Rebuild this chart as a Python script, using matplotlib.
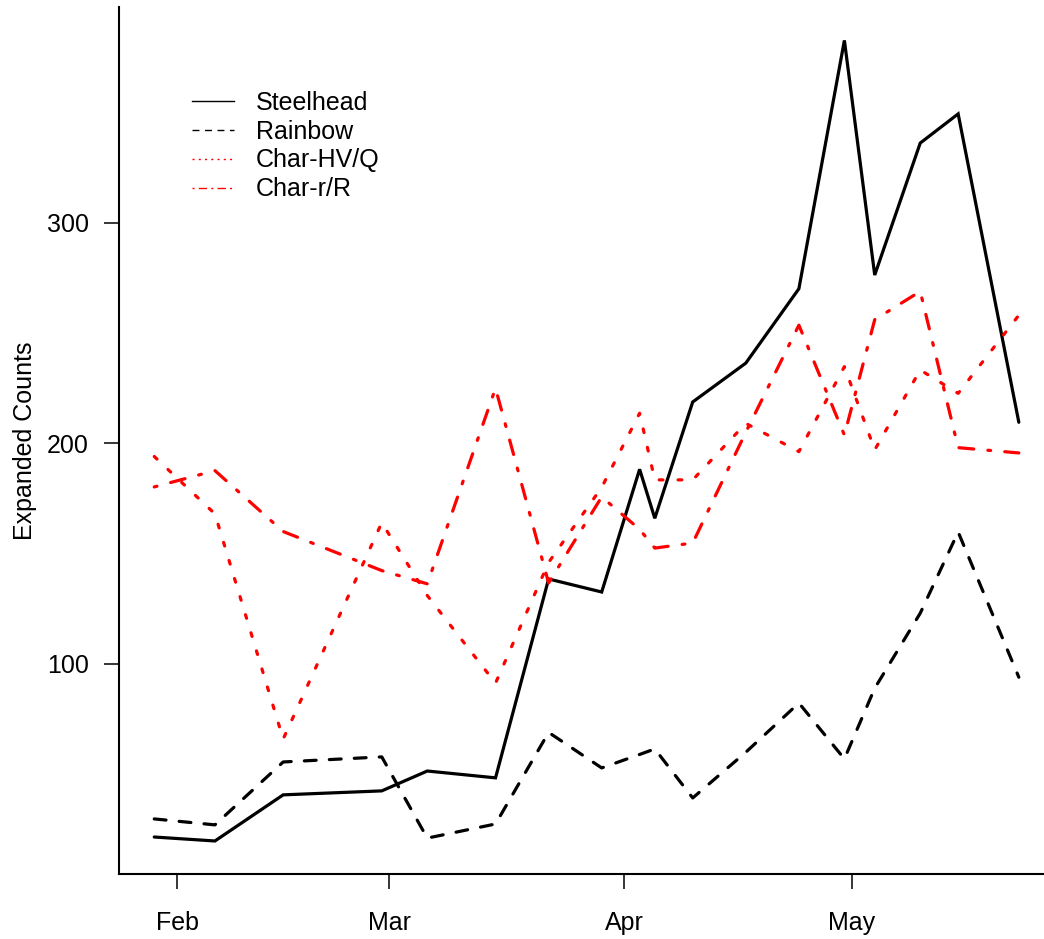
import numpy as np
import matplotlib
matplotlib.use("Agg")
import matplotlib.pyplot as plt
import matplotlib.dates as mdates
from matplotlib.lines import Line2D

# sampling dates and expanded counts per group
dates = np.array(['2010-01-29', '2010-02-06', '2010-02-15', '2010-02-28', '2010-03-06',
                  '2010-03-15', '2010-03-22', '2010-03-29', '2010-04-03', '2010-04-05',
                  '2010-04-10', '2010-04-17', '2010-04-24', '2010-04-30', '2010-05-04',
                  '2010-05-10', '2010-05-15', '2010-05-23'], dtype='datetime64[D]')
steelhead = [21.6, 19.8, 40.7, 42.5, 51.5, 48.4, 138.5, 132.6, 188.2, 166.0,
             218.7, 236.3, 270.0, 382.5, 276.2, 336.0, 349.2, 209.5]
rainbow = [29.8, 27.1, 55.6, 57.9, 21.1, 27.5, 69.0, 52.9, 59.0, 61.5,
           39.3, 60.0, 82.3, 57.0, 89.0, 123.0, 159.8, 94.0]
char_hvq = [194.0, 168.0, 66.0, 164.0, 131.0, 91.3, 146.0, 180.0, 213.6, 183.4,
            183.4, 209.0, 196.2, 234.7, 197.0, 233.2, 222.6, 258.0]
char_rr = [180.2, 187.6, 160.0, 142.3, 136.3, 224.9, 136.7, 175.7, 161.0, 152.5,
           154.8, 205.0, 253.5, 203.7, 256.0, 268.8, 198.0, 195.6]

labels = ['Steelhead', 'Rainbow', 'Char-HV/Q', 'Char-r/R']
month_ticks = np.array(['2010-02-01', '2010-03-01', '2010-04-01', '2010-05-01'], dtype='datetime64[D]')
month_labels = ['Feb', 'Mar', 'Apr', 'May']
y_ticks = [100, 200, 300]

plt.rcParams['font.family'] = ['Liberation Sans', 'DejaVu Sans']
plt.rcParams['lines.scale_dashes'] = False

fig = plt.figure(figsize=(10.44, 9.39), dpi=100)
# axes placed in pixels to match the R layout
ax = fig.add_axes([118.7 / 1044, (939 - 873.5) / 939, 1 - 118.7 / 1044, (873.5 - 7.3) / 939])

lw = 2.3
ax.plot(dates, steelhead, color='black', lw=lw, solid_capstyle='round', solid_joinstyle='miter')
ax.plot(dates, rainbow, color='black', lw=lw, dashes=(8.5, 9.5), dash_capstyle='round')
ax.plot(dates, char_hvq, color='red', lw=lw, dashes=(2.7, 10.9), dash_capstyle='round')
ax.plot(dates, char_rr, color='red', lw=lw, dashes=(2.0, 10.2, 10.7, 10.2), dash_capstyle='round')

# axis limits in data units (R style 4% padding)
feb1 = mdates.date2num(np.datetime64('2010-02-01'))
px_day = 7.584
ax.set_xlim(feb1 - (177 - 118.7) / px_day, feb1 + (1044 - 177) / px_day)
ax.set_ylim(5.07, 397.5)

ax.spines['top'].set_visible(False)
ax.spines['right'].set_visible(False)
ax.spines['left'].set_linewidth(1.5)
ax.spines['bottom'].set_linewidth(1.5)

ax.set_xticks(mdates.date2num(month_ticks))
ax.set_xticklabels(month_labels)
ax.set_yticks(y_ticks)
ax.tick_params(axis='x', length=10.8, width=1.1, pad=16.5, labelsize=18)
ax.tick_params(axis='y', length=10.8, width=1.1, pad=10.8, labelsize=18)
ax.set_ylabel('Expanded Counts', fontsize=18, labelpad=7)

handles = [
    Line2D([], [], color='black', lw=1.0),
    Line2D([], [], color='black', lw=1.0, dashes=(5, 4)),
    Line2D([], [], color='red', lw=1.0, dashes=(1.5, 3)),
    Line2D([], [], color='red', lw=1.0, dashes=(1.5, 3, 6, 3)),
]
fig.legend(handles, labels, loc='upper left', bbox_to_anchor=(192 / 1044, 1 - 91 / 939),
           frameon=False, fontsize=18, borderpad=0, borderaxespad=0,
           handlelength=1.67, handletextpad=0.88, labelspacing=0.19)

plt.savefig('out.png', dpi=100)
